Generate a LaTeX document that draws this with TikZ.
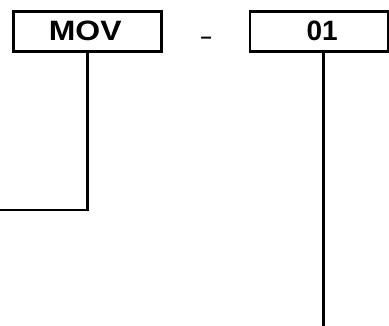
\documentclass[tikz,border=0pt]{standalone}
\usepackage{fontspec}
\setmainfont{Liberation Sans}
\usetikzlibrary{positioning}

\tikzset{codebox/.style = {draw, line width=2.9pt, minimum height=40.5pt, inner sep=0pt}}

\begin{document}
\begin{tikzpicture}[x=1pt, y=-1pt, line width=2.9pt]
            % Define node styles
            \tikzstyle{code} = [font=\fontsize{28}{32}\selectfont\bfseries, inner sep=0pt]
            \tikzstyle{sep} = [font=\fontsize{20}{24}\selectfont\bfseries, inner sep=0pt, anchor=base]
            \useasboundingbox (0,0) rectangle (389,325);

            % Code boxes
            \node[codebox, minimum width=147.5pt] (movbox) at (87.6,31.5) {};
            \node[codebox, minimum width=138pt] (numbox) at (319,31.5) {};

            % Codes
            \node[code, xscale=1.14] (mov) at (85.2,31) {MOV};
            \node[code] (num) at (322.2,31) {01};
            \node[sep] (dash) at (206.2,43.6) {--};

            % Free ends of the leaders
            \coordinate (movend) at (0,210);
            \coordinate (numend) at (323.3,326);

            % Leaders
            \draw (movbox.south) |- (movend);
            \draw (numend |- numbox.south) -- (numend);
\end{tikzpicture}
\end{document}
